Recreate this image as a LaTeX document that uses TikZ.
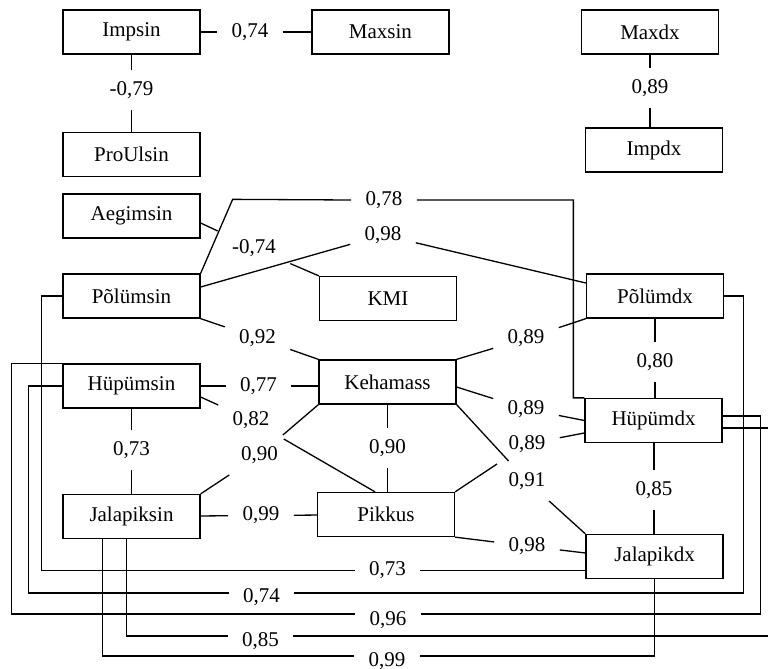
\documentclass[tikz,border=0pt]{standalone}
\usepackage{fontspec}
\setmainfont{Liberation Serif}
\usepackage{tikz}
\tikzstyle{varbox} = [rectangle, minimum width=68.5pt, minimum height=22pt, inner sep=0pt, text centered, draw=black, line width=0.65pt, font=\fontsize{10.5pt}{12pt}\selectfont]
\tikzstyle{coef} = [rectangle, inner xsep=7pt, inner ysep=5.5pt, font=\fontsize{10.5pt}{12pt}\selectfont]
\tikzstyle{link} = [line width=0.65pt]

\begin{document}
\begin{tikzpicture}[node distance=62pt]
        \path [use as bounding box, fill=white] (0,0) rectangle (384pt,-334.5pt);
        \clip (0,0) rectangle (384pt,-334.5pt);

        \node (impsin) [varbox] at (65.75pt,-16pt) {Impsin};
        \node (maxsin) [varbox, right of=impsin, xshift=62.5pt] {Maxsin};
        \node (proulsin) [varbox, below of=impsin, yshift=0.75pt] {ProUlsin};
        \node (maxdx) [varbox, right of=maxsin, xshift=72.75pt] {Maxdx};
        \node (impdx) [varbox, below of=maxdx, xshift=2pt, yshift=3pt] {Impdx};
        \node (aegim) [varbox, below of=proulsin, yshift=31.25pt] {Aegimsin};
        \node (poms) [varbox, below of=aegim, yshift=22pt] {Põlümsin};
        \node (kmi) [varbox, right of=poms, xshift=66.25pt, yshift=-1.25pt] {KMI};
        \node (pomdx) [varbox, right of=kmi, xshift=71.5pt, yshift=1.25pt] {Põlümdx};
        \node (hyms) [varbox, below of=poms, yshift=17pt] {Hüpümsin};
        \node (keha) [varbox, right of=hyms, xshift=66pt, yshift=2pt] {Kehamass};
        \node (hymdx) [varbox, right of=keha, xshift=71pt, yshift=-19.25pt] {Hüpümdx};
        \node (jals) [varbox, below of=hyms, yshift=-3.25pt] {Jalapiksin};
        \node (pikkus) [varbox, right of=jals, xshift=65.25pt, yshift=1pt] {Pikkus};
        \node (jaldx) [varbox, right of=pikkus, xshift=72.25pt, yshift=-21pt] {Jalapikdx};

        \node (corr1) [coef] at (125pt,-16pt) {0,74};
        \node (corr2) [coef] at (65.75pt,-45pt) {-0,79};
        \node (corr3) [coef] at (325pt,-44pt) {0,89};
        \node (corr4) [coef] at (127pt,-124pt) {-0,74};
        \node (corr5) [coef] at (192pt,-100pt) {0,78};
        \node (corr6) [coef] at (191.5pt,-117.5pt) {0,98};
        \node (corr7) [coef] at (128.75pt,-169pt) {0,92};
        \node (corr8) [coef] at (129.25pt,-193pt) {0,77};
        \node (corr9) [coef] at (125.5pt,-210pt) {0,82};
        \node (corr10) [coef] at (129.75pt,-227.5pt) {0,90};
        \node (corr11) [coef] at (65.75pt,-225pt) {0,73};
        \node (corr12) [coef] at (130.5pt,-257.75pt) {0,99};
        \node (corr13) [coef] at (193.75pt,-224pt) {0,90};
        \node (corr14) [coef] at (263pt,-169.25pt) {0,89};
        \node (corr15) [coef] at (263pt,-204.5pt) {0,89};
        \node (corr16) [coef] at (263.5pt,-222pt) {0,89};
        \node (corr17) [coef] at (263.5pt,-240.5pt) {0,91};
        \node (corr18) [coef] at (263.5pt,-273pt) {0,98};
        \node (corr19) [coef] at (327.5pt,-181pt) {0,80};
        \node (corr20) [coef] at (327pt,-245pt) {0,85};
        \node (corr21) [coef] at (193.75pt,-285.25pt) {0,73};
        \node (corr22) [coef] at (130.75pt,-298.5pt) {0,74};
        \node (corr23) [coef] at (194pt,-310pt) {0,96};
        \node (corr24) [coef] at (130.25pt,-320.5pt) {0,85};
        \node (corr25) [coef] at (193.5pt,-330.5pt) {0,99};

        % Links
        \draw [link] (impsin) -- (corr1) -- (maxsin);
        \draw [link] (impsin) -- (corr2) -- (proulsin);
        \draw [link] (maxdx) -- (corr3) -- (corr3 |- impdx.north);
        \draw [link] ([yshift=-3.5pt]aegim.east) -- (corr4) -- (kmi.north west);
        \draw [link] (poms.north east) -- ++(16pt,37pt) -- (corr5.west) (corr5.east) -| ([xshift=-5.5pt]hymdx.north west) -- (hymdx.north west);
        \draw [link] ([yshift=4.5pt]poms.east) -- (corr6) -- ([yshift=6.5pt]pomdx.west);
        \draw [link] (poms.south east) -- (corr7) -- (keha.north west);
        \draw [link] (hyms) -- (corr8) -- (corr8 -| keha.west);
        \draw [link] ([yshift=-5.5pt]hyms.east) -- (corr9) -- ([xshift=-5.5pt]pikkus.north);
        \draw [link] (keha.south west) -- (corr10) -- (jals.north east);
        \draw [link] (hyms) -- (corr11) -- (jals);
        \draw [link] (jals) -- (corr12) -- (pikkus);
        \draw [link] (keha) -- (corr13) -- (corr13 |- pikkus.north);
        \draw [link] (keha.north east) -- (corr14) -- (pomdx.south west);
        \draw [link] ([yshift=-2.5pt]keha.east) -- (corr15) -- (hymdx.west);
        \draw [link] (pikkus.north east) -- (corr16) -- ([yshift=-6.25pt]hymdx.west);
        \draw [link] (keha.south east) -- (corr17) -- (jaldx.north west);
        \draw [link] (pikkus.south east) -- (corr18) -- ([yshift=1.75pt]jaldx.west);
        \draw [link] (pomdx) -- (corr19) -- (corr19 |- hymdx.north);
        \draw [link] (corr20 |- hymdx.south) -- (corr20) -- (corr20 |- jaldx.north);

        % Long links round the outside
        \draw [link] (poms.west) -- ++(-10.5pt,0) |- (corr21.west) (corr21.east) -- (corr21.east -| jaldx.west);
        \draw [link] (hyms.west) -- ++(-17pt,0) |- ([yshift=2pt]corr22.west) ([yshift=2pt]corr22.east) -| ([xshift=9.5pt]pomdx.east) -- (pomdx.east);
        \draw [link] (hyms.north west) -- ++(-25.5pt,0) |- ([yshift=3pt]corr23.west) ([yshift=3pt]corr23.east) -| ([xshift=19pt,yshift=2.25pt]hymdx.east) -- ([yshift=2.25pt]hymdx.east);
        \draw [link] ([xshift=-2.5pt]jals.south) |- ([yshift=2.5pt]corr24.west) ([yshift=2.5pt]corr24.east) -| ([xshift=26pt,yshift=-3.75pt]hymdx.east) -- ([yshift=-3.75pt]hymdx.east);
        \draw [link] ([xshift=-14.5pt]jals.south) |- ([yshift=2.5pt]corr25.west) ([yshift=2.5pt]corr25.east) -| (jaldx.south);

\end{tikzpicture}
\end{document}
